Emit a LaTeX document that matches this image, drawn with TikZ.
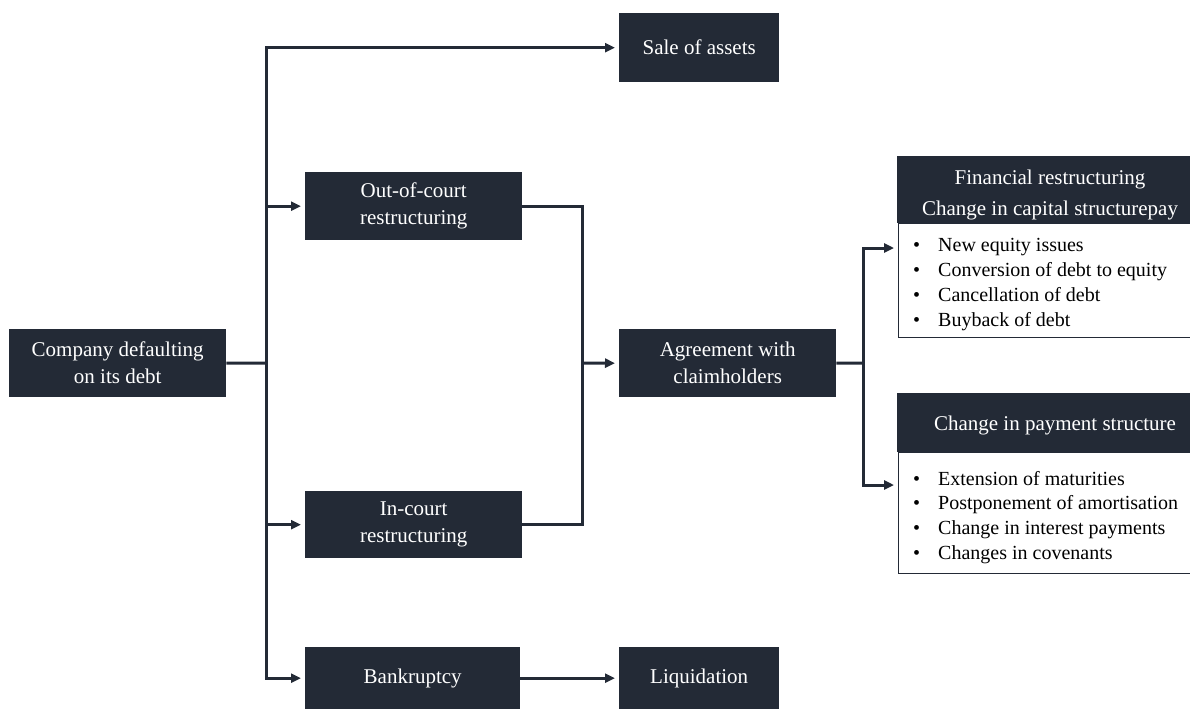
\documentclass[tikz,border=0pt]{standalone}
\usepackage{fontspec}
\setmainfont{Liberation Serif}
\usetikzlibrary{arrows.meta,calc}
\definecolor{navy}{RGB}{35,42,54}
\begin{document}
\begin{tikzpicture}[x=1pt,y=-1pt,
  box/.style={fill=navy, text=white, inner sep=0pt, align=center, anchor=north west,
    font=\fontsize{21}{27}\selectfont},
  hdr/.style={fill=navy, inner sep=0pt, anchor=north west},
  hdrtext/.style={text=white, inner sep=0pt, align=center, font=\fontsize{21}{31}\selectfont},
  body/.style={draw=navy, line width=1.3pt, fill=white, inner sep=0pt, anchor=north west},
  item/.style={inner sep=0pt, anchor=base west, text=black, font=\fontsize{20}{24}\selectfont},
  conn/.style={draw=navy, line width=3pt, line join=miter},
  arr/.style={conn, shorten >=4pt, -{Triangle[length=10pt,width=9pt]}}]
\useasboundingbox (0,0) rectangle (1190,709);
\clip (0,0) rectangle (1190,709);

% main boxes
\node[box, minimum width=217pt, minimum height=68pt] (company) at (9,329) {Company defaulting\\on its debt};
\node[box, minimum width=160pt, minimum height=69pt] (sale) at (619,13) {Sale of assets};
\node[box, minimum width=217pt, minimum height=68pt] (out) at (305,172) {Out-of-court\\restructuring};
\node[box, minimum width=217pt, minimum height=67pt] (inc) at (305,491) {In-court\\restructuring};
\node[box, minimum width=215pt, minimum height=62pt] (bank) at (305,647) {Bankruptcy};
\node[box, minimum width=160pt, minimum height=62pt] (liq) at (619,647) {Liquidation};
\node[box, minimum width=217pt, minimum height=68pt] (agree) at (619,329) {Agreement with\\claimholders};

% right boxes
\node[body, minimum width=320pt, minimum height=114pt] (finbody) at (898,223) {};
\node[hdr, minimum width=320pt, minimum height=67pt] (finhead) at (898,156) {};
\draw[draw=navy, line width=1.3pt] (finhead.north west) -- (finbody.north west);
\node[hdrtext] (fintext) at (1050,195) {Financial restructuring\\Change in capital structurepay};
\node[body, minimum width=320pt, minimum height=121pt] (paybody) at (898,452) {};
\node[hdr, minimum width=320pt, minimum height=59pt] (payhead) at (898,393) {};
\draw[draw=navy, line width=1.3pt] (payhead.north west) -- (paybody.north west);
\node[hdrtext] (paytext) at (1055,425) {Change in payment structure};

\foreach \t [count=\i] in {New equity issues, Conversion of debt to equity, Cancellation of debt, Buyback of debt}
  \node[item] (f\i) at (913,226+25*\i) {\makebox[25pt][l]{\textbullet}\t};
\foreach \t [count=\i] in {Extension of maturities, Postponement of amortisation, Change in interest payments, Changes in covenants}
  \node[item] (p\i) at (913,460.5+24.7*\i) {\makebox[25pt][l]{\textbullet}\t};

% connectors
\coordinate (tc) at (266,363);
\coordinate (j1) at (582,363);
\coordinate (j2) at (863,363);
\coordinate (fin) at (898,248);
\coordinate (pay) at (898,485);

\draw[conn] (company.east) -- (tc);
\draw[arr] (tc) |- (sale.west);
\draw[arr] (tc) |- (out.west);
\draw[arr] (tc) |- (inc.west);
\draw[arr] (tc) |- (bank.west);
\draw[arr] (bank.east) -- (liq.west);
\draw[conn] (out.east) -| (j1) |- (inc.east);
\draw[arr] (j1) -- (agree.west);
\draw[conn] (agree.east) -- (j2);
\draw[arr] (j2) |- (fin);
\draw[arr] (j2) |- (pay);
\end{tikzpicture}
\end{document}
